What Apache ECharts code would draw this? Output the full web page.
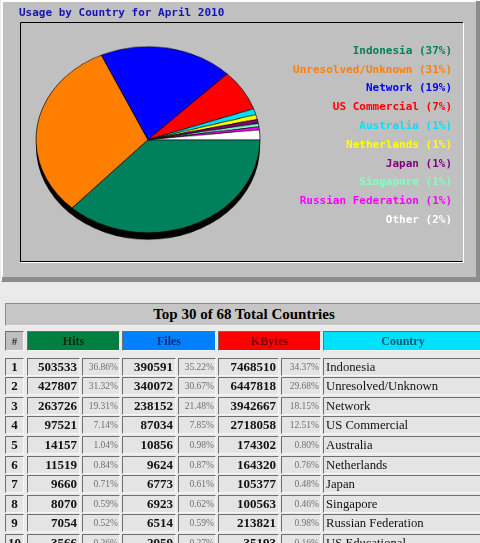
<!DOCTYPE html>
<html><head><meta charset="utf-8">
<script src="https://cdn.jsdelivr.net/npm/echarts@6/dist/echarts.min.js"></script>
<style>
html,body{margin:0;padding:0;}
body{width:480px;height:543px;overflow:hidden;position:relative;background:#eaeaea;}
#panel{position:absolute;left:0;top:0;width:480px;height:290px;}
#pie{position:absolute;left:28px;top:40.4px;width:240px;height:252px;transform:scaleY(0.8304);transform-origin:0 0;}
#tbl{position:absolute;left:0;top:0;width:480px;height:543px;}
.c{position:absolute;box-sizing:border-box;border-style:solid;border-width:1px;border-color:#6e6e6e #f6f6f6 #f6f6f6 #6e6e6e;background:#e4e4e4;font-family:"Liberation Serif","Times New Roman",serif;white-space:nowrap;overflow:hidden;color:#111;}
.n{font-weight:bold;font-size:13px;text-align:right;padding-right:2px;line-height:16px;}
.p{font-size:9.5px;text-align:right;padding-right:1px;line-height:16px;color:#707070;}
.t{font-size:12.7px;text-align:left;padding-left:2px;line-height:16px;}
.r{font-weight:bold;font-size:13px;text-align:center;line-height:16px;}
.h{font-weight:bold;font-size:12px;text-align:center;line-height:18px;}
</style></head><body>
<div id="panel"></div>
<div id="pie"></div>
<div id="tbl"></div>
<script>
// ---- data ----
var chartTitle = 'Usage by Country for April 2010';
var pieNames = ['Indonesia','Unresolved/Unknown','Network','US Commercial','Australia','Netherlands','Japan','Singapore','Russian Federation','Other'];
var pieHits = [503533,427807,263726,97521,14157,11519,9660,8070,7054,23022];
var pieColors = ['#00805c','#ff8000','#0000ff','#ff0000','#00e0ff','#ffff00','#800080','#80ffc0','#ff00ff','#ffffff'];

var tableTitle = 'Top 30 of 68 Total Countries';
var headers = ['#','Hits','Files','KBytes','Country'];
var rank = [1,2,3,4,5,6,7,8,9,10];
var hits = [503533,427807,263726,97521,14157,11519,9660,8070,7054,3566];
var hitsPct = ['36.86%','31.32%','19.31%','7.14%','1.04%','0.84%','0.71%','0.59%','0.52%','0.26%'];
var files = [390591,340072,238152,87034,10856,9624,6773,6923,6514,2959];
var filesPct = ['35.22%','30.67%','21.48%','7.85%','0.98%','0.87%','0.61%','0.62%','0.59%','0.27%'];
var kbytes = [7468510,6447818,3942667,2718058,174302,164320,105377,100563,213821,35193];
var kbytesPct = ['34.37%','29.68%','18.15%','12.51%','0.80%','0.76%','0.48%','0.46%','0.98%','0.16%'];
var countries = ['Indonesia','Unresolved/Unknown','Network','US Commercial','Australia','Netherlands','Japan','Singapore','Russian Federation','US Educational'];

// ---- top panel ----
var total = pieHits.reduce(function(a,b){return a+b;},0);
var g = [
  {type:'rect', shape:{x:1,y:0,width:479,height:282}, style:{fill:'#c0c0c0'}},
  {type:'polyline', shape:{points:[[2,281],[2,1],[480,1]]}, style:{stroke:'#ffffff',lineWidth:2,fill:null}},
  {type:'rect', shape:{x:2,y:277,width:478,height:5}, style:{fill:'#8c8c8c'}},
  {type:'rect', shape:{x:476,y:1,width:4,height:281}, style:{fill:'#8c8c8c'}},
  {type:'polyline', shape:{points:[[20.5,262],[20.5,22.5],[463,22.5]]}, style:{stroke:'#000',lineWidth:1,fill:null}},
  {type:'polyline', shape:{points:[[20.5,262.5],[463.5,262.5],[463.5,22.5]]}, style:{stroke:'#ffffff',lineWidth:1,fill:null}},
  {type:'polyline', shape:{points:[[20.5,261.5],[462.5,261.5]]}, style:{stroke:'#000',lineWidth:1,fill:null}},
  {type:'text', x:19, y:13, style:{text:chartTitle, fill:'#1414b4', font:'bold 11px "DejaVu Sans Mono", monospace', verticalAlign:'middle', align:'left', textShadowColor:'rgba(0,0,60,0.35)', textShadowOffsetX:0.5, textShadowOffsetY:0.5, textShadowBlur:0}}
];
pieNames.forEach(function(n,i){
  var pct = Math.round(pieHits[i]/total*100);
  g.push({type:'text', x:452, y:51+i*18.8, style:{text:n+' ('+pct+'%)', fill:pieColors[i], font:'bold 11px "DejaVu Sans Mono", monospace', align:'right', verticalAlign:'middle', textShadowColor:'rgba(0,0,0,0.8)', textShadowOffsetX:1, textShadowOffsetY:1, textShadowBlur:0}});
});
var panel = echarts.init(document.getElementById('panel'), null, {renderer:'canvas'});
panel.setOption({animation:false, graphic:g});

// ---- pie (drawn circular, squashed to an ellipse) ----
var pie = echarts.init(document.getElementById('pie'), null, {renderer:'canvas'});
pie.setOption({
  animation:false,
  series:[
    {type:'pie', silent:true, center:[120,128.5], radius:112, startAngle:0, clockwise:true, label:{show:false}, labelLine:{show:false},
     data:[{value:1, itemStyle:{color:'#000'}}]},
    {type:'pie', silent:true, center:[120,120], radius:112, startAngle:0, clockwise:true, label:{show:false}, labelLine:{show:false},
     itemStyle:{borderColor:'#000', borderWidth:0.7},
     data:pieNames.map(function(n,i){return {name:n, value:pieHits[i], itemStyle:{color:pieColors[i]}};})}
  ]
});

// ---- table ----
var tbl = document.getElementById('tbl');
function cell(x,y,w,h,cls,txt,css){
  var d=document.createElement('div'); d.className='c '+cls;
  d.style.left=x+'px'; d.style.top=y+'px'; d.style.width=w+'px'; d.style.height=h+'px';
  if(css){for(var k in css){d.style[k]=css[k];}}
  d.textContent=txt; tbl.appendChild(d); return d;
}
cell(5,303,476,23,'h',tableTitle,{background:'#c6c6c6',fontSize:'15px',lineHeight:'21px',color:'#000',paddingLeft:'2px',borderColor:'#8a8a8a #f0f0f0 #f0f0f0 #8a8a8a'});
var colX=[5,27,122,218,323], colW=[19,93,94,103,160];
var hBg=['#c0c0c0','#008040','#0080ff','#ff0000','#00e0ff'];
var hFg=['#333','#002a10','#00307a','#7a0000','#005a70'];
headers.forEach(function(h,i){cell(colX[i],331,colW[i],20,'h',h,{background:hBg[i],color:hFg[i],fontSize:(i==0?'11px':'12px')});});
var dX=[5,27,82,122,178,218,281,323], dW=[19,53,38,54,38,61,40,160];
rank.forEach(function(r,i){
  var y=357.5+i*19.6, hh=18;
  cell(dX[0],y,dW[0],hh,'r',String(r));
  cell(dX[1],y,dW[1],hh,'n',String(hits[i]));
  cell(dX[2],y,dW[2],hh,'p',hitsPct[i]);
  cell(dX[3],y,dW[3],hh,'n',String(files[i]));
  cell(dX[4],y,dW[4],hh,'p',filesPct[i]);
  cell(dX[5],y,dW[5],hh,'n',String(kbytes[i]));
  cell(dX[6],y,dW[6],hh,'p',kbytesPct[i]);
  cell(dX[7],y,dW[7],hh,'t',countries[i]);
});
</script>
</body></html>
